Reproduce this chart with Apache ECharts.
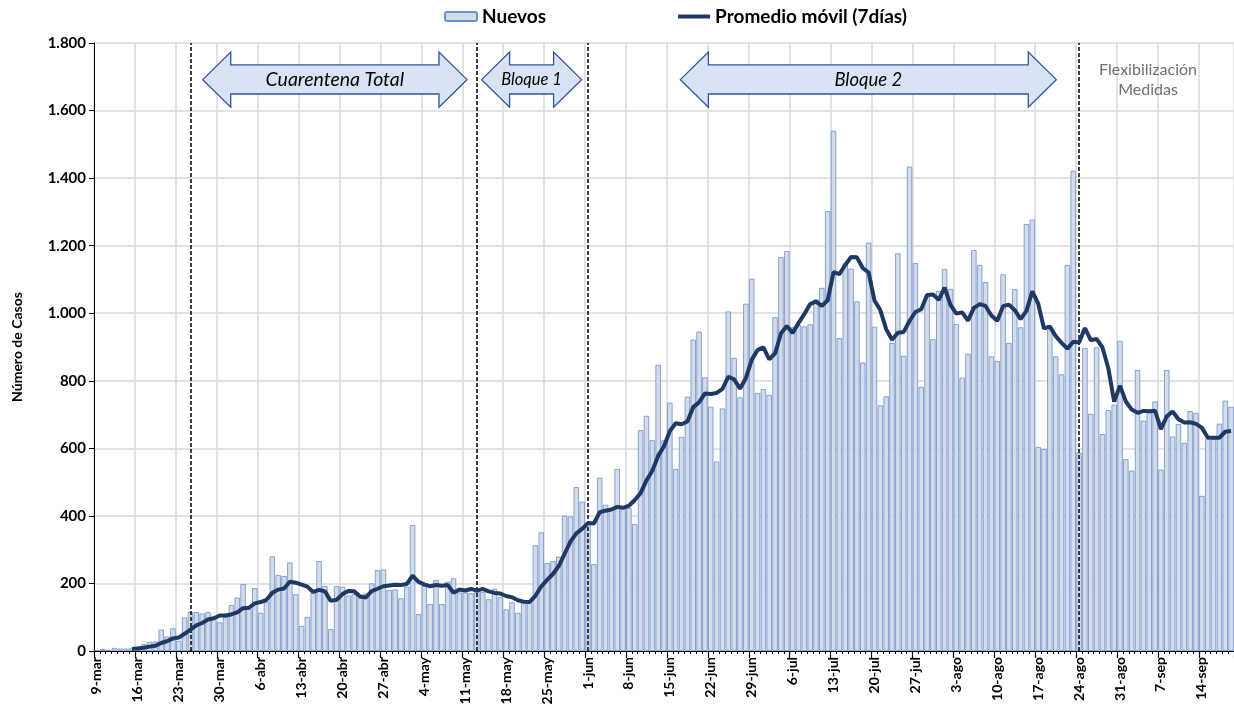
<!DOCTYPE html>
<html>
<head>
<meta charset="utf-8">
<script src="https://cdn.jsdelivr.net/npm/echarts@6/dist/echarts.min.js"></script>
<style>
  html, body { margin: 0; padding: 0; background: #fff; }
  #chart { width: 1234px; height: 721px; }
</style>
</head>
<body>
<div id="chart"></div>
<script>
// casos nuevos por día (9-mar a 19-sep)
const nuevosMar = [3, 6, 4, 9, 7, 7, 8, 13, 20, 27, 28, 63, 43, 67, 30, 99, 115, 115, 111, 115, 95, 85, 100];
const nuevosAbr = [136, 158, 198, 124, 186, 113, 146, 280, 225, 222, 262, 168, 74, 101, 173, 266, 192, 65, 192, 190,
                   164, 168, 159, 170, 200, 239, 241, 180, 182, 156];
const nuevosMay = [190, 373, 109, 192, 139, 210, 139, 205, 215, 173, 173, 171, 175, 175, 153, 184, 159, 123, 144, 113,
                   146, 146, 313, 351, 260, 266, 279, 400, 398, 485, 442];
const nuevosJun = [380, 257, 513, 433, 423, 539, 423, 423, 376, 654, 696, 624, 847, 624, 735, 539, 634, 753, 922, 945,
                   810, 723, 561, 718, 1005, 868, 751, 1028, 1102, 764];
const nuevosJul = [775, 758, 988, 1166, 1184, 958, 965, 961, 967, 1041, 1075, 1302, 1540, 926, 1148, 1132, 1035, 854, 1209, 960,
                   727, 754, 912, 1177, 874, 1434, 1148, 782, 1050, 923, 1066];
const nuevosAgo = [1130, 1072, 968, 809, 880, 1187, 1143, 1092, 872, 858, 1115, 912, 1071, 958, 1264, 1277, 604, 598, 952, 872,
                   819, 1143, 1421, 587, 897, 702, 899, 642, 713, 729, 918];
const nuevosSep = [568, 534, 832, 682, 706, 739, 537, 832, 635, 672, 616, 710, 705, 459, 628, 628, 673, 741, 723];

const meses = [
  { nombre: 'mar', desde: 9, valores: nuevosMar },
  { nombre: 'abr', desde: 1, valores: nuevosAbr },
  { nombre: 'may', desde: 1, valores: nuevosMay },
  { nombre: 'jun', desde: 1, valores: nuevosJun },
  { nombre: 'jul', desde: 1, valores: nuevosJul },
  { nombre: 'ago', desde: 1, valores: nuevosAgo },
  { nombre: 'sep', desde: 1, valores: nuevosSep }
];

// fechas con líneas punteadas
const cortes = ['25-mar', '13-may', '1-jun', '24-ago'];

const fechas = [];
const nuevos = [];
meses.forEach(m => {
  m.valores.forEach((v, k) => {
    fechas.push((m.desde + k) + '-' + m.nombre);
    nuevos.push(v);
  });
});

// promedio móvil de 7 días
const promedio = nuevos.map((v, i) => {
  if (i < 6) return null;
  let s = 0;
  for (let j = i - 6; j <= i; j++) s += nuevos[j];
  return +(s / 7).toFixed(1);
});

const FONT = 'Lato';
const chart = echarts.init(document.getElementById('chart'));

const option = {
  animation: false,
  textStyle: { fontFamily: FONT },
  grid: { left: 94, right: 0, top: 43, bottom: 70 },
  legend: {
    top: 7,
    left: 444,
    padding: 0,
    itemWidth: 32,
    itemHeight: 9,
    itemGap: 132,
    textStyle: { fontFamily: FONT, fontWeight: 'bold', fontSize: 19, color: '#000' },
    data: [
      { name: 'Nuevos' },
      { name: 'Promedio móvil (7días)', icon: 'path://M0,0 L32,0 L32,4 L0,4 Z' }
    ]
  },
  xAxis: [
    {
      type: 'category',
      data: fechas,
      boundaryGap: true,
      axisLine: { lineStyle: { color: '#000', width: 1 } },
      axisTick: { show: true, interval: 0, length: 3, lineStyle: { color: '#000' } },
      axisLabel: {
        interval: 6,
        rotate: 90,
        margin: 6,
        color: '#000',
        fontWeight: 'bold',
        fontSize: 14,
        fontFamily: FONT
      },
      splitLine: { show: true, interval: 6, lineStyle: { color: '#d9d9d9', width: 1.5 } }
    },
    {
      type: 'category',
      data: fechas,
      position: 'bottom',
      boundaryGap: true,
      axisLine: { show: false },
      axisTick: { show: true, interval: 6, length: 7, lineStyle: { color: '#000', width: 1.2 } },
      axisLabel: { show: false },
      splitLine: { show: false }
    }
  ],
  yAxis: {
    type: 'value',
    min: 0,
    max: 1800,
    interval: 200,
    name: 'Número de Casos',
    nameLocation: 'middle',
    nameGap: 70,
    nameTextStyle: { fontFamily: FONT, fontWeight: 'bold', fontSize: 14, color: '#000' },
    axisLine: { show: true, lineStyle: { color: '#000', width: 1 } },
    axisTick: { show: true, length: 5, lineStyle: { color: '#000' } },
    axisLabel: {
      margin: 8,
      color: '#000',
      fontWeight: 'bold',
      fontSize: 15,
      fontFamily: FONT,
      formatter: v => v.toString().replace(/\B(?=(\d{3})+(?!\d))/g, '.')
    },
    splitLine: { show: true, lineStyle: { color: '#d9d9d9', width: 1.5 } }
  },
  series: [
    {
      name: 'Nuevos',
      type: 'bar',
      data: nuevos,
      barCategoryGap: '8%',
      itemStyle: { color: '#d6dce5', borderColor: '#6b8fd4', borderWidth: 0.8 },
      markLine: {
        silent: true,
        symbol: 'none',
        label: { show: false },
        lineStyle: { color: '#000', type: [4, 2], width: 1.5 },
        data: cortes.map(c => ({ xAxis: c }))
      }
    },
    {
      name: 'Promedio móvil (7días)',
      type: 'line',
      data: promedio,
      symbol: 'none',
      z: 5,
      lineStyle: { color: '#1f3864', width: 4 },
      itemStyle: { color: '#1f3864' }
    }
  ]
};

chart.setOption(option);

// flechas de las etapas, ubicadas con las escalas del gráfico
const p0 = chart.convertToPixel({ xAxisIndex: 0 }, 0);
const paso = chart.convertToPixel({ xAxisIndex: 0 }, 1) - p0;
const xDia = d => p0 - paso / 2 + d * paso;
const yVal = v => chart.convertToPixel({ yAxisIndex: 0 }, v);

function flecha(d1, d2, texto, tam) {
  const x1 = xDia(d1), x2 = xDia(d2);
  const yt = yVal(1773), yb = yVal(1610), ym = (yt + yb) / 2;
  const st = yVal(1735), sb = yVal(1649);
  const h = 28;
  return [
    {
      type: 'polygon',
      shape: {
        points: [
          [x1, ym], [x1 + h, yt], [x1 + h, st], [x2 - h, st], [x2 - h, yt],
          [x2, ym], [x2 - h, yb], [x2 - h, sb], [x1 + h, sb], [x1 + h, yb]
        ]
      },
      style: { fill: '#dae3f3', stroke: '#2f5597', lineWidth: 1.3 },
      z: 10
    },
    {
      type: 'text',
      x: (x1 + x2) / 2,
      y: ym,
      style: {
        text: texto,
        fontFamily: FONT,
        fontStyle: 'italic',
        fontSize: tam,
        fill: '#000',
        align: 'center',
        verticalAlign: 'middle'
      },
      z: 11
    }
  ];
}

const graficos = [].concat(
  flecha(18.6, 63.8, 'Cuarentena Total', 19.5),
  flecha(66.3, 83.4, 'Bloque 1', 16.5),
  flecha(100.3, 164.6, 'Bloque 2', 18.5),
  [{
    type: 'text',
    x: xDia(180.3),
    y: (yVal(1720) + yVal(1664)) / 2,
    style: {
      text: 'Flexibilización\nMedidas',
      fontFamily: FONT,
      fontSize: 16,
      lineHeight: 20,
      fill: '#6f6f6f',
      align: 'center',
      verticalAlign: 'middle'
    },
    z: 11
  }]
);

chart.setOption({ graphic: graficos });
</script>
</body>
</html>
